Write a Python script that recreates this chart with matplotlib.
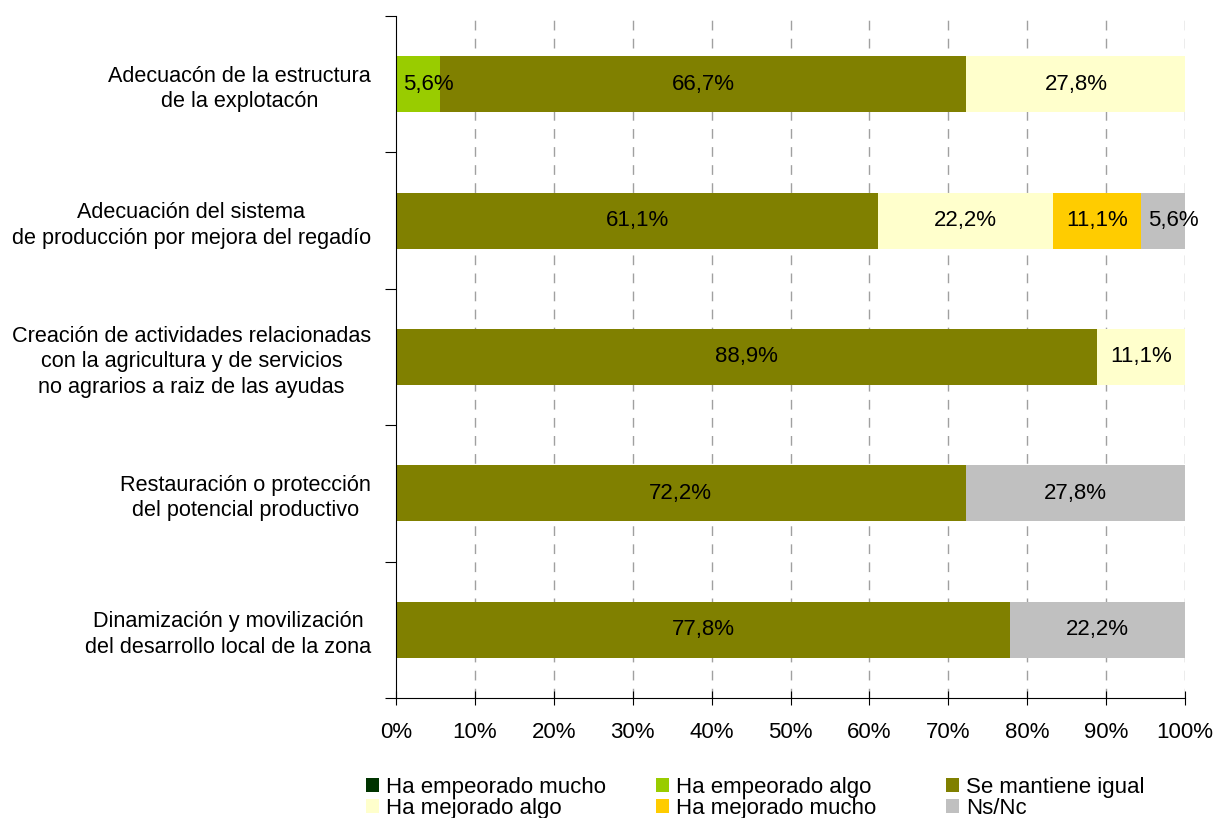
import numpy as np
import matplotlib.pyplot as plt

plt.rcParams['font.family'] = ['Liberation Sans', 'DejaVu Sans']

categories = [
    "Adecuacón de la estructura\nde la explotacón",
    "Adecuación del sistema\nde producción por mejora del regadío",
    "Creación de actividades relacionadas\ncon la agricultura y de servicios\nno agrarios a raiz de las ayudas",
    "Restauración o protección\ndel potencial productivo",
    "Dinamización y movilización\ndel desarrollo local de la zona",
]
series_names = ["Ha empeorado mucho", "Ha empeorado algo", "Se mantiene igual",
                "Ha mejorado algo", "Ha mejorado mucho", "Ns/Nc"]
empeorado_mucho = [0, 0, 0, 0, 0]
empeorado_algo = [5.6, 0, 0, 0, 0]
mantiene_igual = [66.7, 61.1, 88.9, 72.2, 77.8]
mejorado_algo = [27.8, 22.2, 11.1, 0, 0]
mejorado_mucho = [0, 11.1, 0, 0, 0]
ns_nc = [0, 5.6, 0, 27.8, 22.2]
colors = ["#003300", "#99CC00", "#808000", "#FFFFCC", "#FFCC00", "#C0C0C0"]

series = [empeorado_mucho, empeorado_algo, mantiene_igual, mejorado_algo, mejorado_mucho, ns_nc]

FS = 16

fig = plt.figure(figsize=(12.16, 8.18), dpi=100)
ax = fig.add_axes([396 / 1216, 1 - 698 / 818, (1185 - 396) / 1216, (698 - 16) / 818])

y = np.arange(len(categories))
left = np.zeros(len(categories))
handles = []
for name, vals, col in zip(series_names, series, colors):
    vals = np.array(vals, dtype=float)
    h = ax.barh(y, vals, left=left, height=0.41, color=col, label=name, zorder=2)
    handles.append(h)
    for yi, l, v in zip(y, left, vals):
        if v <= 0:
            continue
        txt = f"{v:.1f}%".replace('.', ',')
        if v < 8:
            # narrow segment: label starts just inside the segment
            ax.text(l + 0.9, yi, txt, ha='left', va='center', fontsize=FS, zorder=3)
        else:
            ax.text(l + v / 2, yi, txt, ha='center', va='center', fontsize=FS, zorder=3)
    left += vals

ax.set_xlim(0, 100)
ax.set_ylim(len(categories) - 0.5, -0.5)
ax.set_xticks(np.arange(0, 101, 10))
ax.set_xticklabels([f"{v}%" for v in range(0, 101, 10)], fontsize=FS)
ax.tick_params(axis='x', direction='inout', length=10, pad=12)
ax.set_yticks(np.arange(-0.5, len(categories), 1.0))
ax.set_yticklabels([])
ax.set_yticks(y, minor=True)
ax.set_yticklabels(categories, minor=True, fontsize=15.6, ha='right', linespacing=1.28)
ax.tick_params(axis='y', which='major', direction='out', length=8)
ax.tick_params(axis='y', which='minor', length=0, pad=18)
for lab in ax.get_yticklabels(minor=True):
    lab.set_multialignment('center')

for xv in range(10, 101, 10):
    ax.axvline(xv, color='#A0A0A0', linestyle=(0, (7, 6)), linewidth=1, zorder=1)

for s in ['top', 'right']:
    ax.spines[s].set_visible(False)

# legend: three columns, two rows each
col_x = [366, 656, 946]
for c in range(3):
    idx = [c, c + 3]
    fig.legend([handles[i] for i in idx], [series_names[i] for i in idx],
               loc='upper left', bbox_to_anchor=(col_x[c] / 1216, 1 - 777 / 818),
               frameon=False, fontsize=FS, handlelength=0.6, handleheight=0.6,
               handletextpad=0.3, labelspacing=-0.02, borderaxespad=0, borderpad=0)

fig.savefig("out.png", dpi=100)
